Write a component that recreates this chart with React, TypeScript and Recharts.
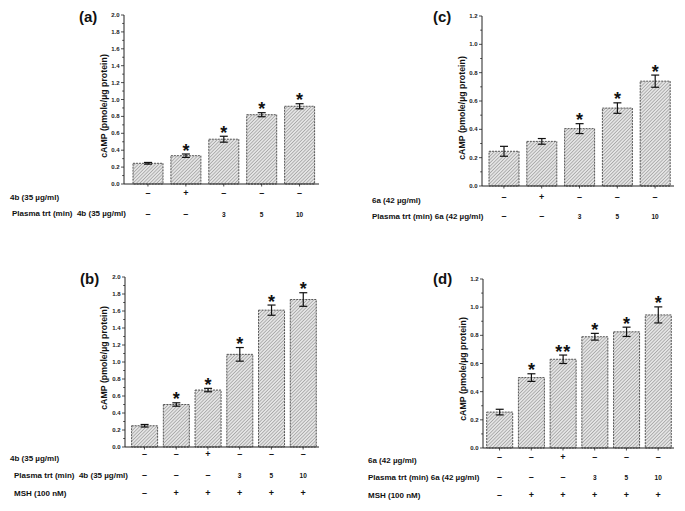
import React from 'react';
import { BarChart, Bar, XAxis, YAxis, ErrorBar, LabelList } from 'recharts';

// ---------- data ----------
const catsA = ['A1', 'A2', 'A3', 'A4', 'A5'];
const valuesA = [0.245, 0.335, 0.53, 0.82, 0.92];
const errsA = [0.01, 0.02, 0.035, 0.024, 0.03];
const starsA = ['', '*', '*', '*', '*'];
const rowA1 = ['–', '+', '–', '–', '–'];
const rowA2 = ['–', '–', '3', '5', '10'];
const rowLabelsA = ['4b (35 µg/ml)', 'Plasma trt (min)  4b (35 µg/ml)'];

const catsB = ['B1', 'B2', 'B3', 'B4', 'B5', 'B6'];
const valuesB = [0.25, 0.5, 0.67, 1.09, 1.61, 1.735];
const errsB = [0.015, 0.02, 0.02, 0.08, 0.06, 0.08];
const starsB = ['', '*', '*', '*', '*', '*'];
const rowB1 = ['–', '–', '+', '–', '–', '–'];
const rowB2 = ['–', '–', '–', '3', '5', '10'];
const rowB3 = ['–', '+', '+', '+', '+', '+'];
const rowLabelsB = ['4b (35 µg/ml)', 'Plasma trt (min)  4b (35 µg/ml)', 'MSH (100 nM)'];

const catsC = ['C1', 'C2', 'C3', 'C4', 'C5'];
const valuesC = [0.245, 0.315, 0.405, 0.55, 0.74];
const errsC = [0.035, 0.02, 0.035, 0.037, 0.043];
const starsC = ['', '', '*', '*', '*'];
const rowC1 = ['–', '+', '–', '–', '–'];
const rowC2 = ['–', '–', '3', '5', '10'];
const rowLabelsC = ['6a (42 µg/ml)', 'Plasma trt (min) 6a (42 µg/ml)'];

const catsD = ['D1', 'D2', 'D3', 'D4', 'D5', 'D6'];
const valuesD = [0.255, 0.5, 0.63, 0.79, 0.825, 0.945];
const errsD = [0.02, 0.027, 0.03, 0.024, 0.033, 0.057];
const starsD = ['', '*', '**', '*', '*', '*'];
const rowD1 = ['–', '–', '+', '–', '–', '–'];
const rowD2 = ['–', '–', '–', '3', '5', '10'];
const rowD3 = ['–', '+', '+', '+', '+', '+'];
const rowLabelsD = ['6a (42 µg/ml)', 'Plasma trt (min) 6a (42 µg/ml)', 'MSH (100 nM)'];

const ticks20 = [0, 0.1, 0.2, 0.3, 0.4, 0.5, 0.6, 0.7, 0.8, 0.9, 1.0, 1.1, 1.2, 1.3, 1.4, 1.5, 1.6, 1.7, 1.8, 1.9, 2.0];
const ticks12 = [0, 0.1, 0.2, 0.3, 0.4, 0.5, 0.6, 0.7, 0.8, 0.9, 1.0, 1.1, 1.2];

const FONT = '"Liberation Sans", Arial, sans-serif';
const YLABEL = 'cAMP (pmole/µg protein)';
const YW = 30;
const XH = 50;

type PanelProps = {
  id: string;
  left: number;
  top: number;
  width: number;
  height: number;
  plot: { top: number; right: number; bottom: number; left: number };
  padL: number;
  padR: number;
  barSize: number;
  cats: string[];
  values: number[];
  errs: number[];
  stars: string[];
  rows: string[][];
  rowOffsets: number[];
  yMax: number;
  ticks: number[];
  title: string;
  titleX: number;
  titleY: number;
  rowLabels: string[];
  rowLabelX: number[];
  rowLabelDy: number[];
  ylabelX: number;
  ylabelY: number;
};

function Panel(p: PanelProps) {
  const data = p.cats.map((c, i) => {
    const o: any = { cat: c, value: p.values[i], err: p.errs[i], star: p.stars[i] };
    p.rows.forEach((r, k) => {
      o['r' + k] = r[i];
    });
    return o;
  });
  const axisY = p.height - p.plot.bottom;
  const axisX = p.plot.left;
  const plotH = p.height - p.plot.top - p.plot.bottom;
  const pxPerUnit = plotH / p.yMax;
  const margin = { top: p.plot.top, right: p.plot.right, bottom: p.plot.bottom - XH, left: p.plot.left - YW };

  const XTick = (props: any) => {
    const { x, index } = props;
    return (
      <g>
        <line x1={x} x2={x} y1={axisY} y2={axisY + 2.5} stroke="#222" strokeWidth={0.8} />
        {p.rows.map((r, k) => {
          const t = r[index];
          const isNum = t !== '–' && t !== '+';
          return (
            <text
              key={k}
              x={x}
              y={axisY + p.rowOffsets[k]}
              textAnchor="middle"
              dominantBaseline="central"
              fontFamily={FONT}
              fontWeight="bold"
              fontSize={isNum ? 6.5 : 9}
              fill="#111"
            >
              {t}
            </text>
          );
        })}
      </g>
    );
  };

  const YTick = (props: any) => {
    const { y, payload } = props;
    const v = payload.value as number;
    const major = Math.abs(Math.round(v * 10) % 2) === 0;
    return (
      <g>
        <line x1={axisX} x2={axisX - (major ? 3 : 1.8)} y1={y} y2={y} stroke="#222" strokeWidth={0.8} />
        {major && (
          <text
            x={axisX - 4.5}
            y={y}
            textAnchor="end"
            dominantBaseline="central"
            fontFamily={FONT}
            fontWeight="bold"
            fontSize={6}
            fill="#222"
          >
            {v.toFixed(1)}
          </text>
        )}
      </g>
    );
  };

  const StarLabel = (props: any) => {
    const { x, y, width, value, index } = props;
    if (!value) return null;
    const errPx = p.errs[index] * pxPerUnit;
    return (
      <text
        x={x + width / 2}
        y={y - errPx + 2.5}
        textAnchor="middle"
        fontFamily={FONT}
        fontWeight="bold"
        fontSize={18}
        fill="#111"
        letterSpacing={value.length > 1 ? 1 : 0}
      >
        {value}
      </text>
    );
  };

  return (
    <div style={{ position: 'absolute', left: p.left, top: p.top, width: p.width, height: p.height }}>
      <BarChart width={p.width} height={p.height} data={data} margin={margin}>
        <defs>
          <pattern id={'hatch-' + p.id} width={2.4} height={2.4} patternUnits="userSpaceOnUse" patternTransform="rotate(45)">
            <rect width={2.4} height={2.4} fill="#e4e4e4" />
            <line x1={0} y1={0} x2={0} y2={2.4} stroke="#777" strokeWidth={0.9} />
          </pattern>
        </defs>
        <XAxis
          dataKey="cat"
          height={XH}
          tickSize={0}
          tickMargin={0}
          interval={0}
          padding={{ left: p.padL, right: p.padR }}
          axisLine={{ stroke: '#222', strokeWidth: 1 }}
          tickLine={false}
          tick={<XTick />}
        />
        <YAxis
          width={YW}
          domain={[0, p.yMax]}
          ticks={p.ticks}
          interval={0}
          tickSize={0}
          tickMargin={0}
          tickLine={false}
          axisLine={{ stroke: '#222', strokeWidth: 1 }}
          tick={<YTick />}
        />
        <Bar
          dataKey="value"
          fill={'url(#hatch-' + p.id + ')'}
          stroke="#555"
          strokeWidth={1}
          strokeDasharray="2 1"
          barSize={p.barSize}
          isAnimationActive={false}
        >
          <ErrorBar dataKey="err" width={4} stroke="#111" strokeWidth={1.2} direction="y" />
          <LabelList dataKey="star" content={<StarLabel />} />
        </Bar>
      </BarChart>
      <svg
        width={p.width}
        height={p.height}
        style={{ position: 'absolute', left: 0, top: 0, pointerEvents: 'none', overflow: 'visible' }}
      >
        <text x={p.titleX} y={p.titleY} fontFamily={FONT} fontWeight="bold" fontSize={15} fill="#111">
          {p.title}
        </text>
        <text
          transform={`translate(${p.ylabelX},${p.ylabelY}) rotate(-90)`}
          textAnchor="middle"
          dominantBaseline="central"
          fontFamily={FONT}
          fontWeight="bold"
          fontSize={8.8}
          fill="#111"
        >
          {YLABEL}
        </text>
        {p.rowLabels.map((t, k) => (
          <text
            key={k}
            x={p.rowLabelX[k]}
            y={axisY + p.rowOffsets[k] + p.rowLabelDy[k]}
            dominantBaseline="central"
            fontFamily={FONT}
            fontWeight="bold"
            fontSize={8}
            fill="#111"
            style={{ whiteSpace: 'pre' }}
          >
            {t}
          </text>
        ))}
      </svg>
    </div>
  );
}

export default function App() {
  return (
    <div style={{ position: 'absolute', left: 0, top: 0, width: 685, height: 511, background: '#fff', overflow: 'hidden' }}>
      <Panel
        id="a"
        left={0}
        top={0}
        width={340}
        height={250}
        plot={{ top: 15, right: 21, bottom: 66, left: 124 }}
        padL={5}
        padR={0.5}
        barSize={30}
        cats={catsA}
        values={valuesA}
        errs={errsA}
        stars={starsA}
        rows={[rowA1, rowA2]}
        rowOffsets={[9, 30]}
        yMax={2.0}
        ticks={ticks20}
        title="(a)"
        titleX={79}
        titleY={22}
        rowLabels={rowLabelsA}
        rowLabelX={[10, 12]}
        rowLabelDy={[4, -1]}
        ylabelX={104}
        ylabelY={106}
      />
      <Panel
        id="b"
        left={0}
        top={250}
        width={340}
        height={261}
        plot={{ top: 27, right: 21, bottom: 64, left: 125 }}
        padL={3.6}
        padR={0}
        barSize={26}
        cats={catsB}
        values={valuesB}
        errs={errsB}
        stars={starsB}
        rows={[rowB1, rowB2, rowB3]}
        rowOffsets={[7, 28, 46]}
        yMax={2.0}
        ticks={ticks20}
        title="(b)"
        titleX={80}
        titleY={34}
        rowLabels={rowLabelsB}
        rowLabelX={[10, 14, 14]}
        rowLabelDy={[4, 0, 0]}
        ylabelX={104}
        ylabelY={108}
      />
      <Panel
        id="c"
        left={340}
        top={0}
        width={345}
        height={250}
        plot={{ top: 16, right: 11, bottom: 64, left: 142 }}
        padL={3}
        padR={0}
        barSize={30}
        cats={catsC}
        values={valuesC}
        errs={errsC}
        stars={starsC}
        rows={[rowC1, rowC2]}
        rowOffsets={[11, 30]}
        yMax={1.2}
        ticks={ticks12}
        title="(c)"
        titleX={93}
        titleY={22}
        rowLabels={rowLabelsC}
        rowLabelX={[32, 32]}
        rowLabelDy={[3, 0]}
        ylabelX={122}
        ylabelY={108}
      />
      <Panel
        id="d"
        left={340}
        top={250}
        width={345}
        height={261}
        plot={{ top: 29, right: 11, bottom: 63, left: 143 }}
        padL={0.7}
        padR={0}
        barSize={26}
        cats={catsD}
        values={valuesD}
        errs={errsD}
        stars={starsD}
        rows={[rowD1, rowD2, rowD3]}
        rowOffsets={[9, 29, 47]}
        yMax={1.2}
        ticks={ticks12}
        title="(d)"
        titleX={93}
        titleY={34}
        rowLabels={rowLabelsD}
        rowLabelX={[28, 28, 28]}
        rowLabelDy={[3, 0, 0]}
        ylabelX={123}
        ylabelY={119}
      />
    </div>
  );
}
